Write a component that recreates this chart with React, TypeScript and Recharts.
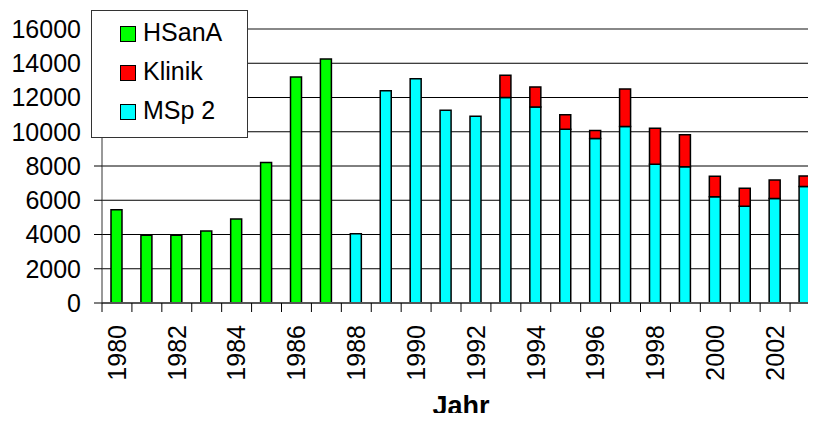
import React from "react";
import { BarChart, Bar, XAxis, YAxis, CartesianGrid, Legend, ReferenceLine } from "recharts";

const years = [
  "1980", "1981", "1982", "1983", "1984", "1985", "1986", "1987", "1988", "1989", "1990", "1991",
  "1992", "1993", "1994", "1995", "1996", "1997", "1998", "1999", "2000", "2001", "2002", "2003",
];
const hsana = [5450, 3950, 3950, 4200, 4900, 8200, 13200, 14250, 0, 0, 0, 0, 0, 0, 0, 0, 0, 0, 0, 0, 0, 0, 0, 0];
const msp2 = [0, 0, 0, 0, 0, 0, 0, 0, 4050, 12400, 13100, 11250, 10900, 12000, 11450, 10150, 9600, 10300, 8100, 7950, 6200, 5650, 6100, 6800];
const klinik = [0, 0, 0, 0, 0, 0, 0, 0, 0, 0, 0, 0, 0, 1300, 1170, 850, 480, 2200, 2100, 1880, 1200, 1050, 1080, 620];
const yTicks = [0, 2000, 4000, 6000, 8000, 10000, 12000, 14000, 16000];

const legendItems = [
  { name: "HSanA", color: "#00FF00" },
  { name: "Klinik", color: "#FF0000" },
  { name: "MSp 2", color: "#00FFFF" },
];

const data = years.map((year, i) => ({ year, hsana: hsana[i], msp2: msp2[i], klinik: klinik[i] }));

const FONT = "'Liberation Sans', Arial, sans-serif";
const CHART_W = 822;
const Y_W = 102;
const RIGHT = 2;
const BAND = (CHART_W - Y_W - RIGHT) / years.length;

const XTick = (props: any) => {
  const { x, y, payload } = props;
  const left = x - BAND / 2;
  const showLabel = Number(payload.value) % 2 === 0;
  return (
    <g>
      <line x1={left} x2={left} y1={y} y2={y + 9} stroke="#000" strokeWidth={1} />
      {showLabel && (
        <text
          x={x}
          y={y + 22}
          transform={`rotate(-90 ${x} ${y + 22})`}
          textAnchor="end"
          dy="0.35em"
          fontSize={25}
          fontFamily={FONT}
          fill="#000"
        >
          {payload.value}
        </text>
      )}
    </g>
  );
};

const AxisTitle = (props: any) => {
  const vb = props.viewBox;
  return (
    <text
      x={vb.x + vb.width / 2}
      y={vb.y + vb.height - 6}
      textAnchor="middle"
      fontSize={27}
      fontWeight="bold"
      fontFamily={FONT}
      fill="#000"
    >
      Jahr
    </text>
  );
};

const LegendBox = () => (
  <div
    style={{
      width: 157,
      height: 128,
      border: "1px solid #333",
      background: "#fff",
      fontFamily: FONT,
      fontSize: 25,
      paddingTop: 1,
      boxSizing: "border-box",
    }}
  >
    {legendItems.map((it) => (
      <div key={it.name} style={{ display: "flex", alignItems: "center", height: 39, paddingLeft: 28 }}>
        <span
          style={{
            display: "inline-block",
            width: 14,
            height: 14,
            border: "1px solid #000",
            background: it.color,
            marginRight: 7,
            marginTop: 5,
          }}
        />
        <span style={{ color: "#000", lineHeight: "26px" }}>{it.name}</span>
      </div>
    ))}
  </div>
);

export default function App() {
  return (
    <div style={{ margin: -8, width: 816, height: 421, overflow: "hidden", background: "#fff" }}>
      <BarChart
        width={CHART_W}
        height={421}
        data={data}
        margin={{ top: 29, right: RIGHT, left: 0, bottom: 0 }}
        barSize={11}
      >
        <CartesianGrid vertical={false} stroke="#000" strokeWidth={1} />
        <ReferenceLine y={16000} stroke="#888" strokeWidth={2} />
        <XAxis
          dataKey="year"
          interval={0}
          height={118}
          tickSize={0}
          tickMargin={0}
          tickLine={false}
          tick={<XTick />}
          axisLine={{ stroke: "#555", strokeWidth: 2 }}
          label={<AxisTitle />}
        />
        <YAxis
          width={Y_W}
          domain={[0, 16000]}
          ticks={yTicks}
          interval={0}
          tickSize={8}
          tickMargin={13}
          tickLine={{ stroke: "#000" }}
          axisLine={{ stroke: "#333" }}
          tick={{ fontSize: 25, fill: "#000", fontFamily: FONT }}
        />
        <Legend
          content={<LegendBox />}
          layout="vertical"
          align="center"
          verticalAlign="middle"
          wrapperStyle={{ left: 91, top: 10, width: 158 }}
        />
        <Bar dataKey="hsana" name="HSanA" stackId="a" fill="#00FF00" stroke="#000" strokeWidth={1.5} isAnimationActive={false} />
        <Bar dataKey="msp2" name="MSp 2" stackId="a" fill="#00FFFF" stroke="#000" strokeWidth={1.5} isAnimationActive={false} />
        <Bar dataKey="klinik" name="Klinik" stackId="a" fill="#FF0000" stroke="#000" strokeWidth={1.5} isAnimationActive={false} />
      </BarChart>
    </div>
  );
}
